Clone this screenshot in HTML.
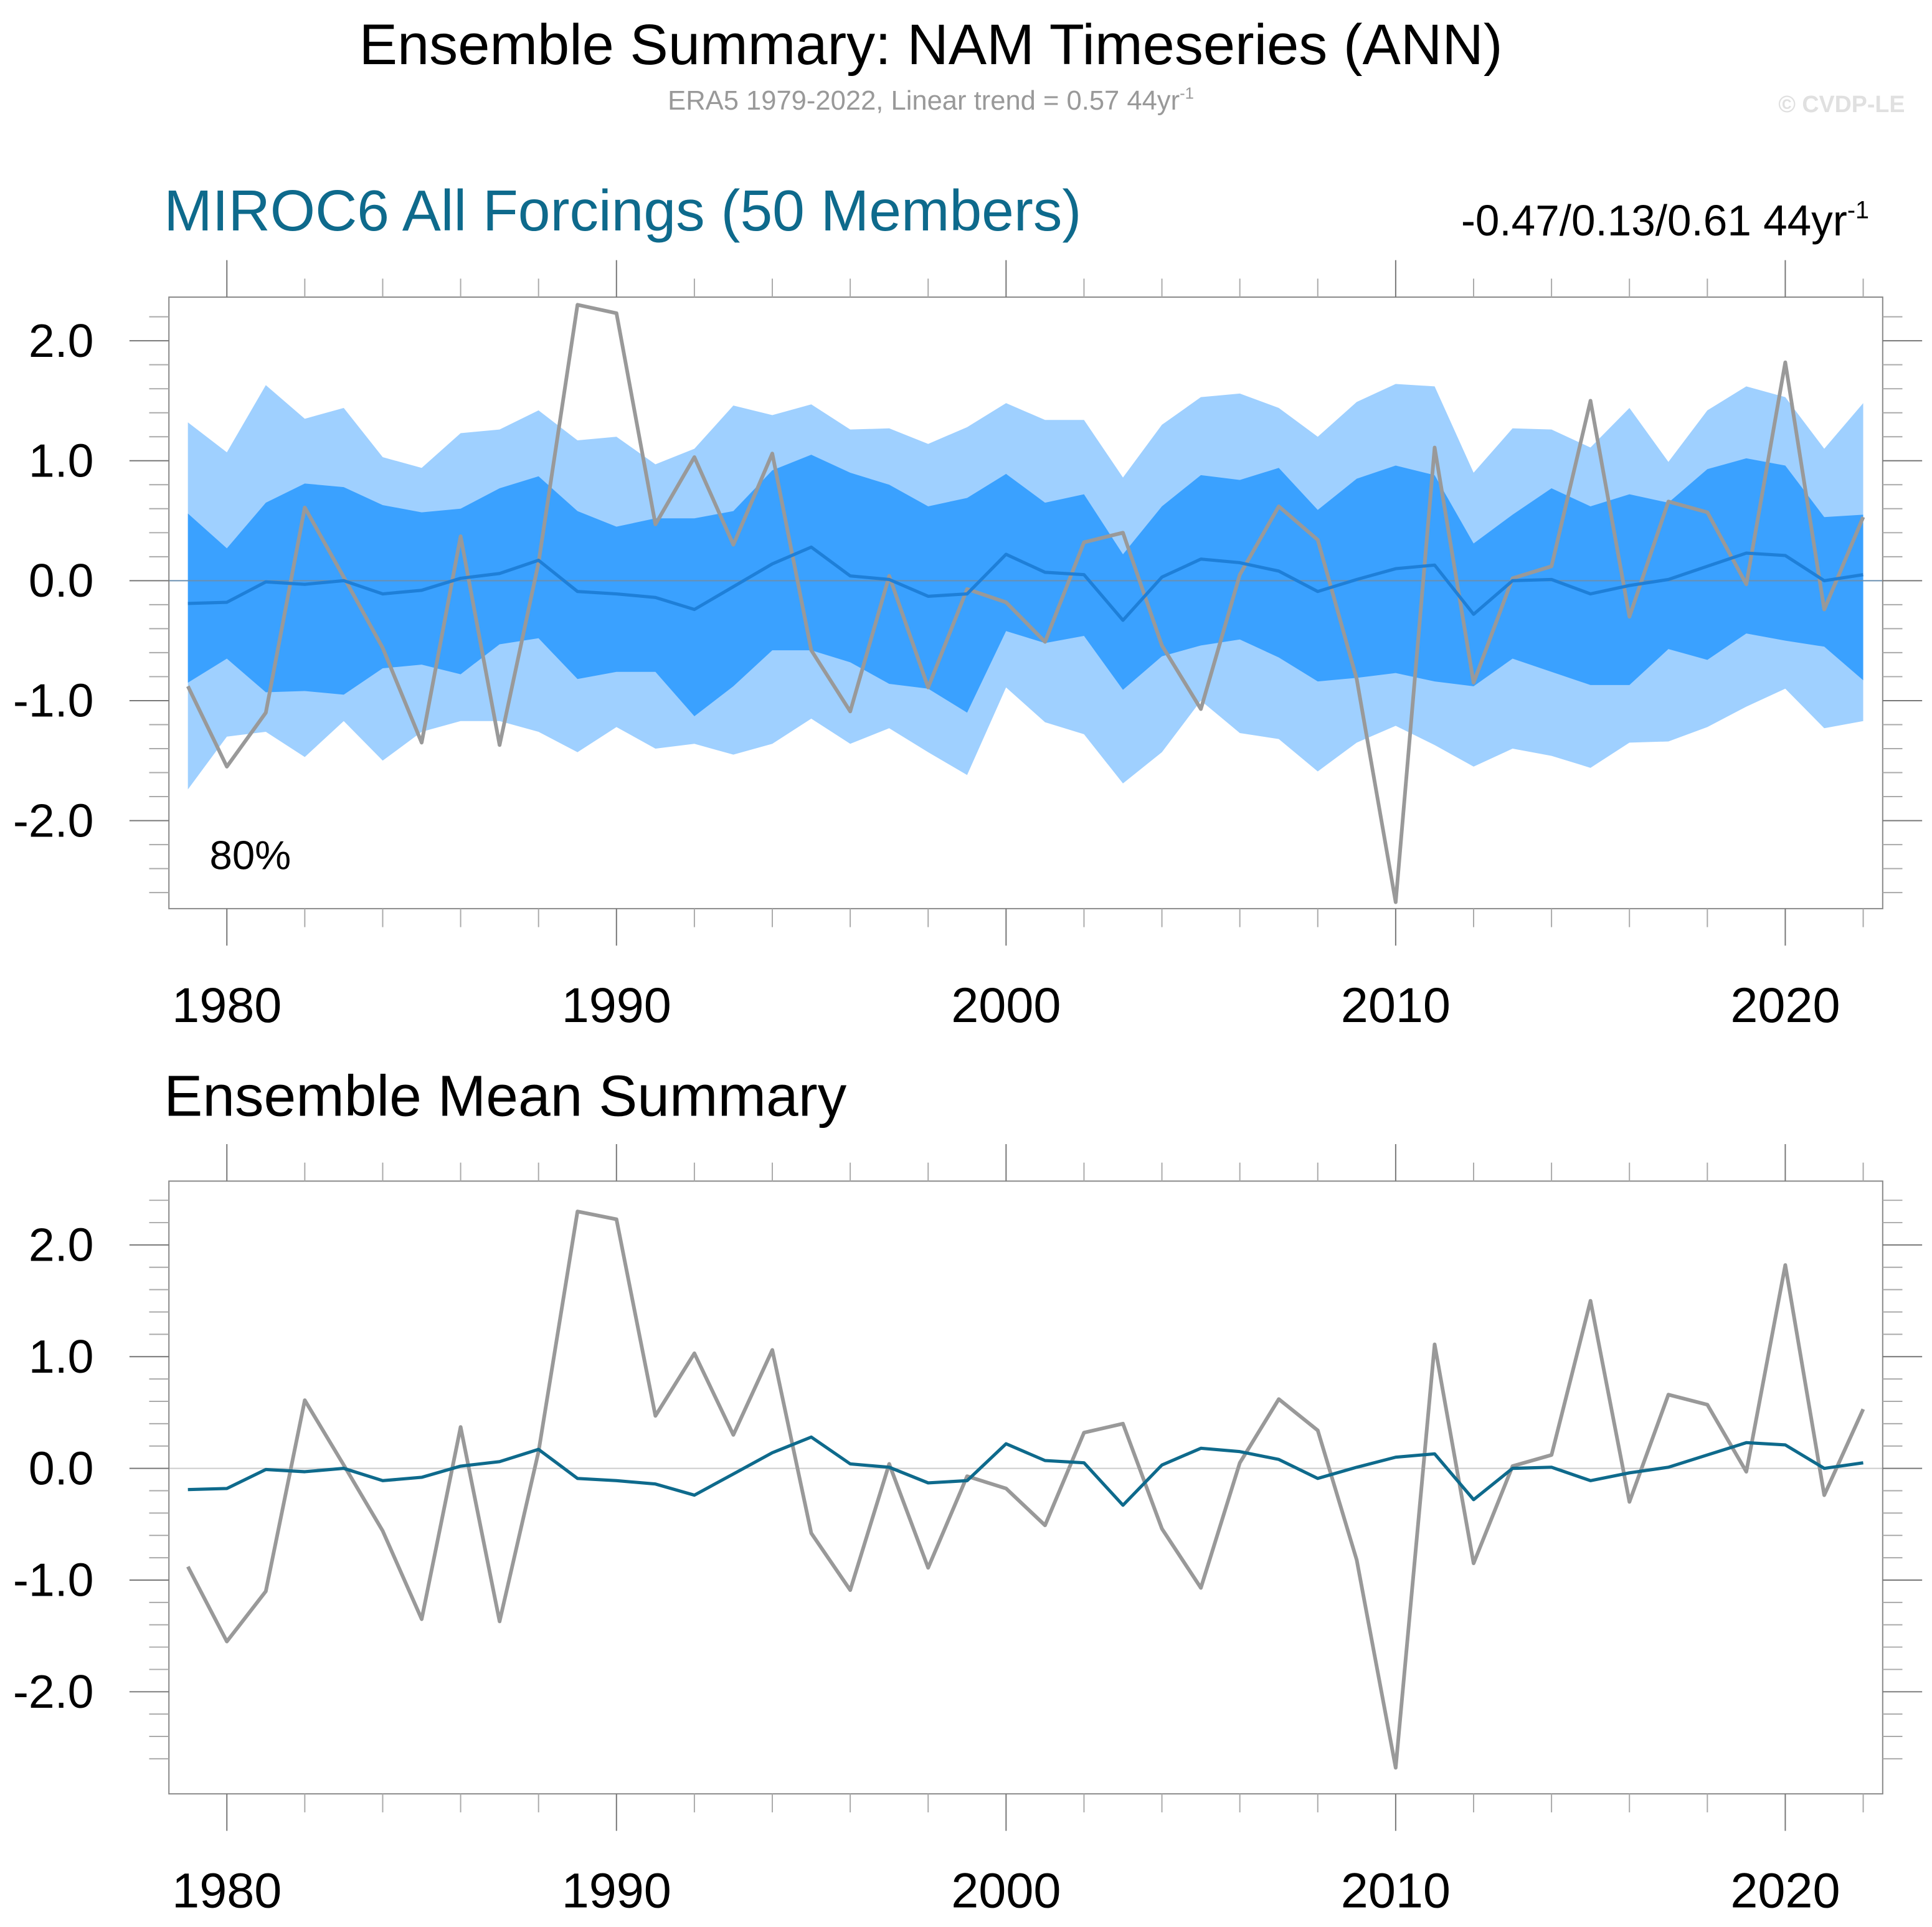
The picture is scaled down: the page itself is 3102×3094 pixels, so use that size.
<!DOCTYPE html>
<html><head><meta charset="utf-8"><style>
html,body{margin:0;padding:0;background:#fff}
svg{display:block}
text{font-family:"Liberation Sans",sans-serif}
</style></head><body>
<svg id="chart" width="3102" height="3094" viewBox="0 0 1567 1563" preserveAspectRatio="none" xmlns="http://www.w3.org/2000/svg">
<text x="755" y="52" font-size="46.5" text-anchor="middle">Ensemble Summary: NAM Timeseries (ANN)</text>
<text x="755" y="89" font-size="22" fill="#999" text-anchor="middle">ERA5 1979-2022, Linear trend = 0.57 44yr<tspan dy="-9" font-size="13">-1</tspan></text>
<text x="1545" y="91" font-size="19" font-weight="bold" fill="#e0e0e0" text-anchor="end">© CVDP-LE</text>
<text x="133" y="187" font-size="47" fill="#0e6a8c">MIROC6 All Forcings (50 Members)</text>
<text x="1516" y="191" font-size="35" text-anchor="end">-0.47/0.13/0.61 44yr<tspan dy="-14" font-size="20">-1</tspan></text>
<text x="133" y="905" font-size="47">Ensemble Mean Summary</text>
<g id="p1"></g>
<g id="p2"></g>
</svg>
<script>
const years = [];
for (let y = 1979; y <= 2022; y++) years.push(y);
const era5 = [-0.88,-1.55,-1.1,0.61,0.03,-0.56,-1.35,0.37,-1.37,0.15,2.3,2.23,0.47,1.03,0.3,1.06,-0.58,-1.09,0.04,-0.89,-0.07,-0.18,-0.51,0.32,0.4,-0.54,-1.07,0.05,0.62,0.34,-0.82,-2.68,1.11,-0.85,0.02,0.12,1.5,-0.3,0.66,0.57,-0.03,1.82,-0.24,0.53];
const ensMean = [-0.19,-0.18,-0.01,-0.03,0.0,-0.11,-0.08,0.02,0.06,0.17,-0.09,-0.11,-0.14,-0.24,-0.05,0.14,0.28,0.04,0.01,-0.13,-0.11,0.22,0.07,0.05,-0.33,0.03,0.18,0.15,0.08,-0.09,0.01,0.1,0.13,-0.28,0.0,0.01,-0.11,-0.04,0.01,0.12,0.23,0.21,0.0,0.05];
const outerHi = [1.32,1.07,1.63,1.35,1.44,1.03,0.94,1.23,1.26,1.42,1.17,1.2,0.97,1.1,1.46,1.38,1.47,1.26,1.27,1.14,1.28,1.48,1.34,1.34,0.86,1.3,1.53,1.56,1.44,1.2,1.49,1.64,1.62,0.9,1.27,1.26,1.11,1.44,0.99,1.42,1.62,1.53,1.1,1.48];
const innerHi = [0.56,0.27,0.65,0.81,0.78,0.63,0.57,0.6,0.77,0.87,0.58,0.45,0.52,0.52,0.58,0.92,1.05,0.9,0.8,0.62,0.69,0.89,0.65,0.72,0.22,0.62,0.88,0.84,0.94,0.59,0.85,0.96,0.88,0.31,0.55,0.77,0.62,0.72,0.65,0.93,1.02,0.96,0.53,0.55];
const innerLo = [-0.85,-0.65,-0.93,-0.92,-0.95,-0.73,-0.7,-0.78,-0.53,-0.48,-0.82,-0.76,-0.76,-1.13,-0.88,-0.58,-0.58,-0.68,-0.86,-0.9,-1.1,-0.42,-0.52,-0.46,-0.91,-0.63,-0.54,-0.49,-0.64,-0.84,-0.81,-0.77,-0.84,-0.88,-0.65,-0.76,-0.87,-0.87,-0.57,-0.66,-0.44,-0.5,-0.55,-0.83];
const outerLo = [-1.74,-1.3,-1.26,-1.47,-1.17,-1.5,-1.26,-1.17,-1.17,-1.26,-1.43,-1.22,-1.4,-1.36,-1.45,-1.36,-1.15,-1.36,-1.23,-1.43,-1.62,-0.89,-1.18,-1.28,-1.69,-1.43,-1.0,-1.27,-1.32,-1.59,-1.35,-1.21,-1.37,-1.55,-1.4,-1.46,-1.56,-1.35,-1.34,-1.22,-1.05,-0.9,-1.23,-1.17];
const xTicks = [1980,1990,2000,2010,2020];
const yTicks = [2,1,0,-1,-2];
const yTickLabels = ["2.0","1.0","0.0","-1.0","-2.0"];

const NS = "http://www.w3.org/2000/svg";
function mk(parent, tag, attrs) {
  const e = document.createElementNS(NS, tag);
  for (const k in attrs) e.setAttribute(k, attrs[k]);
  parent.appendChild(e);
  return e;
}
const X = yr => 184 + (yr - 1980) * 31.6;
const BL = 137, BR = 1527;

function panel(g, top, bot, y0, unit, labelY, isTop) {
  const Y = v => y0 - v * unit;
  if (isTop) {
    const band = (hi, lo, fill, name) => {
      let d = years.map((yr,i)=>(i?'L':'M')+X(yr)+','+Y(hi[i])).join(' ');
      for (let i = years.length-1; i >= 0; i--) d += ' L'+X(years[i])+','+Y(lo[i]);
      const p = mk(g, 'path', {d: d+' Z', fill: fill});
      
      
    };
    band(outerHi, outerLo, '#9fd0ff', 'outer-spread-band');
    band(innerHi, innerLo, '#3aa1ff', 'inner-spread-band');
  }
  const zl = mk(g, 'line', {x1: BL, x2: BR, y1: Y(0), y2: Y(0), stroke: isTop ? '#6a8fb0' : '#ccc', 'stroke-width': 1});
  
  
  const line = (vals, color, w, name) => {
    const p = mk(g, 'polyline', {points: years.map((yr,i)=>X(yr)+','+Y(vals[i])).join(' '), fill: 'none', stroke: color, 'stroke-width': w, 'stroke-linejoin': 'round'});
    
    
  };
  if (isTop) {
    line(era5, '#999', 3, 'era5-line');
    line(ensMean, '#1e7fd8', 2.6, 'ensemble-mean-line');
  } else {
    line(era5, '#999', 3, 'era5-line');
    line(ensMean, '#0e6a8c', 2.6, 'ensemble-mean-line');
  }
  const box = mk(g, 'rect', {x: BL, y: top, width: BR-BL, height: bot-top, fill: 'none', stroke: '#888', 'stroke-width': 1});
  
  
  for (let v = -2.6; v <= 2.41; v += 0.2) {
    const vv = Math.round(v*10)/10;
    const yy = Y(vv);
    if (yy < top || yy > bot) continue;
    const major = Math.abs(vv - Math.round(vv)) < 1e-6;
    const len = major ? 32 : 16;
    const c = major ? '#777' : '#aaa';
    const t1 = mk(g, 'line', {x1: BL-len, x2: BL, y1: yy, y2: yy, stroke: c, 'stroke-width': 1});
    
    
    const t2 = mk(g, 'line', {x1: BR, x2: BR+len, y1: yy, y2: yy, stroke: c, 'stroke-width': 1});
    
    
  }
  yTicks.forEach((v,i) => {
    const t = mk(g, 'text', {x: 76, y: Y(v)+13, 'font-size': 38, 'text-anchor': 'end'});
    t.textContent = yTickLabels[i];
    
    
  });
  for (let yr = 1978; yr <= 2022; yr += 2) {
    const xx = X(yr);
    if (xx < BL || xx > BR) continue;
    const major = yr % 10 === 0;
    const len = major ? 30 : 15;
    const c = major ? '#777' : '#aaa';
    const a = mk(g, 'line', {x1: xx, x2: xx, y1: top-len, y2: top, stroke: c, 'stroke-width': 1});
    
    
    const b = mk(g, 'line', {x1: xx, x2: xx, y1: bot, y2: bot+len, stroke: c, 'stroke-width': 1});
    
    
  }
  xTicks.forEach(yr => {
    const t = mk(g, 'text', {x: X(yr), y: labelY, 'font-size': 40, 'text-anchor': 'middle'});
    t.textContent = yr;
    
    
  });
  if (isTop) {
    const t = mk(g, 'text', {x: 170, y: 705, 'font-size': 33});
    t.textContent = '80%';
    
    
  }
}
panel(document.getElementById('p1'), 241, 737, 471, 97.3, 829, true);
panel(document.getElementById('p2'), 958, 1455, 1191, 90.6, 1547, false);
</script>
</body></html>
